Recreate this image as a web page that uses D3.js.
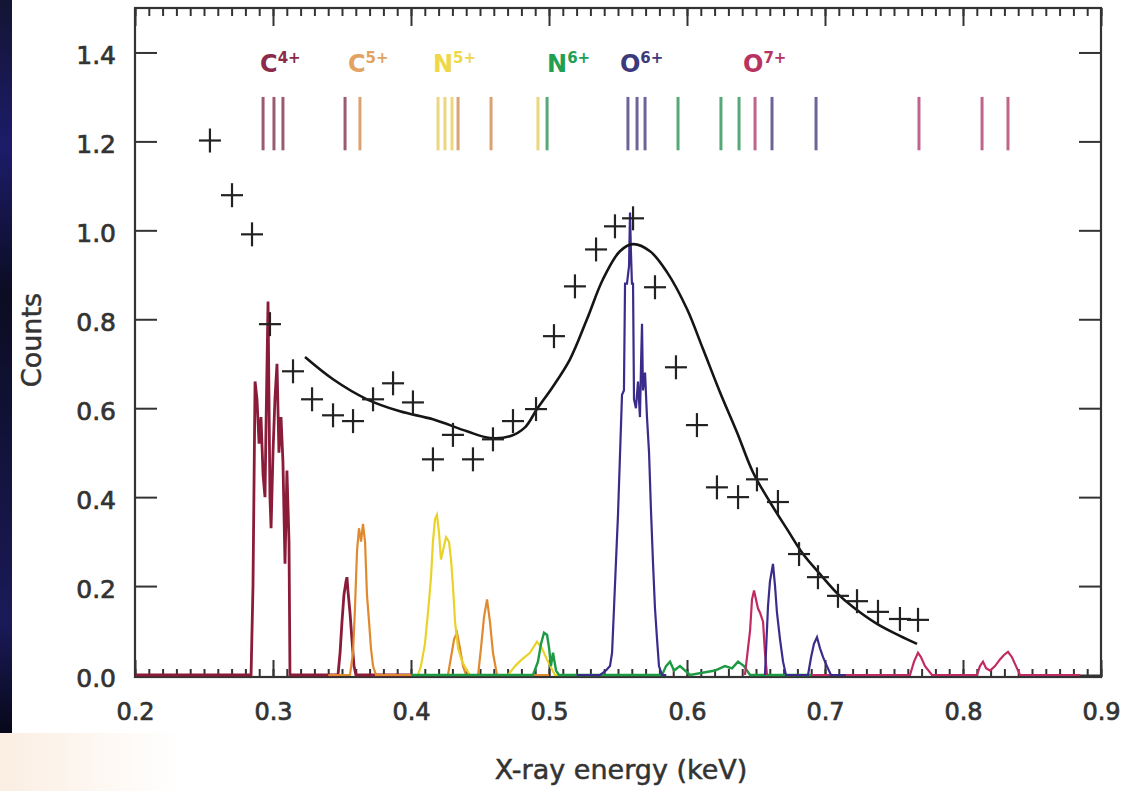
<!DOCTYPE html>
<html><head><meta charset="utf-8">
<script src="https://cdn.jsdelivr.net/npm/d3@7"></script>
<style>body{margin:0;background:#fff;} svg{display:block}</style>
</head><body>
<svg id="chart" width="1128" height="791"></svg>
<script>
// ---------- DATA ----------
const xMajorTicks = [0.2,0.3,0.4,0.5,0.6,0.7,0.8,0.9];
const yTicks = [0.0,0.2,0.4,0.6,0.8,1.0,1.2,1.4];

// measured counts (crosses)
const obsE = [0.2543,0.2703,0.2848,0.2978,0.3145,0.3283,0.3435,0.3580,0.3725,0.3870,0.4014,0.4159,0.4304,0.4449,0.4594,0.4739,0.4906,0.5036,0.5188,0.5341,0.5478,0.5609,0.5768,0.5920,0.6072,0.6217,0.6370,0.6507,0.6659,0.6812,0.6949,0.7094,0.7232,0.7384,0.7543,0.7674];
const obsC = [1.202,1.079,0.991,0.789,0.683,0.620,0.584,0.571,0.620,0.656,0.613,0.485,0.540,0.485,0.530,0.571,0.598,0.762,0.874,0.957,1.009,1.027,0.872,0.692,0.562,0.422,0.400,0.440,0.389,0.272,0.220,0.178,0.166,0.142,0.126,0.124];

// fitted model curve
const fitE = [0.3232,0.3435,0.3681,0.3920,0.4159,0.4406,0.4572,0.4717,0.4826,0.4913,0.5029,0.5152,0.5275,0.5391,0.5514,0.5609,0.5732,0.5855,0.6000,0.6116,0.6239,0.6362,0.6478,0.6601,0.6725,0.6841,0.6964,0.7094,0.7203,0.7377,0.7543,0.7667];
const fitC = [0.715,0.665,0.620,0.593,0.575,0.548,0.533,0.537,0.557,0.598,0.649,0.710,0.800,0.890,0.953,0.969,0.953,0.906,0.823,0.733,0.636,0.546,0.456,0.389,0.328,0.272,0.227,0.182,0.153,0.115,0.088,0.070];

// ion spectra (NaN = gap)
const c4E = [0.2000,0.2841,0.2855,0.2870,0.2884,0.2899,0.2913,0.2928,0.2942,0.2949,0.2964,0.2978,0.2986,0.3000,0.3014,0.3029,0.3043,0.3058,0.3072,0.3087,0.3101,0.3116,0.3123,0.3471,0.3486,0.3500,0.3514,0.3529,0.3536,0.3543,0.3558,0.3572,0.3587,0.3601,0.4000];
const c4C = [0,0,0.20,0.66,0.62,0.52,0.58,0.45,0.40,0.55,0.84,0.40,0.33,0.50,0.62,0.70,0.50,0.58,0.48,0.25,0.46,0.30,0,0,0.05,0.12,0.18,0.21,0.22,0.19,0.14,0.08,0.02,0,0];

const c5E = [0.3400,0.3558,0.3580,0.3594,0.3609,0.3623,0.3638,0.3652,0.3667,0.3681,0.3696,0.3710,0.3725,0.3746,0.4268,0.4290,0.4312,0.4333,0.4355,0.4377,0.4399,0.4486,0.4507,0.4529,0.4551,0.4572,0.4594,0.4623,0.5000];
const c5C = [0,0,0.05,0.15,0.28,0.33,0.30,0.34,0.30,0.18,0.12,0.06,0.02,0,0,0.04,0.08,0.095,0.06,0.02,0,0,0.06,0.13,0.17,0.12,0.05,0,0];

const n5E = [0.4000,0.4051,0.4072,0.4101,0.4123,0.4145,0.4159,0.4174,0.4188,0.4203,0.4217,0.4232,0.4254,0.4275,0.4290,0.4304,0.4319,0.4341,0.4370,0.4406,0.4428,0.4703,0.4754,0.4804,0.4862,0.4913,0.4949,0.4993,0.5043,0.5200];
const n5C = [0,0,0.02,0.07,0.14,0.22,0.30,0.35,0.36,0.32,0.26,0.28,0.31,0.30,0.26,0.20,0.12,0.06,0.03,0.01,0,0,0.02,0.035,0.05,0.075,0.06,0.03,0,0];

const n6E = [0.4000,0.4884,0.4920,0.4942,0.4964,0.4986,0.5001,0.5014,0.5029,0.5051,0.5072,0.5819,0.5848,0.5877,0.5906,0.5949,0.6022,0.6203,0.6275,0.6326,0.6370,0.6413,0.6457,0.6900];
const n6C = [0,0,0.03,0.07,0.095,0.09,0.06,0.02,0.05,0.01,0,0,0.02,0.03,0.01,0.02,0,0.01,0.02,0.015,0.03,0.02,0,0];

const o7E = [0.6420,0.6442,0.6457,0.6471,0.6486,0.6500,0.6514,0.6529,0.6551,0.6565,0.6580,NaN,0.6900,0.7616,0.7645,0.7674,0.7696,0.7725,0.7775,0.8101,0.8123,0.8145,0.8167,0.8196,0.8232,0.8268,0.8297,0.8326,0.8355,0.8384,0.8413,0.8850];
const o7C = [0,0.06,0.10,0.17,0.19,0.17,0.15,0.14,0.12,0.05,0,NaN,0,0,0.03,0.05,0.04,0.02,0,0,0.02,0.03,0.015,0.01,0.02,0.035,0.045,0.052,0.04,0.02,0,0];

const o6E = [0.5200,0.5370,0.5413,0.5442,0.5457,0.5471,0.5486,0.5500,0.5514,0.5529,0.5543,0.5551,0.5565,0.5580,0.5587,0.5594,0.5601,0.5609,0.5616,0.5630,0.5645,0.5659,0.5667,0.5674,0.5681,0.5696,0.5710,0.5725,0.5739,0.5754,0.5768,0.5783,0.5797,0.5819,0.5850,NaN,0.6565,0.6587,0.6601,0.6623,0.6638,0.6652,0.6674,0.6696,0.6717,0.6877,0.6899,0.6920,0.6942,0.6964,0.6986,0.7014,0.7043,0.7150];
const o6C = [0,0,0.01,0.02,0.05,0.15,0.26,0.36,0.49,0.63,0.64,0.88,0.88,0.92,1.04,0.95,0.88,0.88,0.62,0.60,0.66,0.58,0.70,0.79,0.64,0.68,0.58,0.50,0.37,0.25,0.15,0.08,0.02,0,0,NaN,0,0.155,0.21,0.25,0.20,0.14,0.08,0.03,0,0,0.04,0.07,0.085,0.06,0.04,0.02,0,0];

// ion labels and transition line energies
const ionNames   = ["C","C","N","N","O","O"];
const ionCharges = ["4+","5+","5+","6+","6+","7+"];
const ionLabelE  = [0.2906,0.3543,0.4159,0.4986,0.5514,0.6406];
const lineEnergies = [
  [0.2928,0.3007,0.3072,0.3522],
  [0.3630,0.4341,0.4580],
  [0.4196,0.4246,0.4297,0.4920],
  [0.4986,0.5935,0.6246,0.6377],
  [0.5572,0.5638,0.5696,0.6616,0.6935],
  [0.6493,0.7681,0.8138,0.8326]
];

// ---------- STYLE ----------
const specColors  = {c4:"#8a1c3a", c5:"#e08a30", n5:"#e9d22a", n6:"#1e9a45", o6:"#3b2c8c", o7:"#c22a64"};
const labelColors = ["#8c2a4a","#e2a262","#efd748","#22a052","#3c3a7a","#b83262"];
const markColors  = ["#9c5a70","#dba272","#ecd67e","#55a877","#6c6499","#c0648a"];

const W = 1128, H = 791;
const M = {left:135, right:1101, top:8, bottom:677};
const svg = d3.select("#chart");

// background pieces of the photographed slide
const defs = svg.append("defs");
const g1 = defs.append("linearGradient").attr("id","strip").attr("x1",0).attr("x2",0).attr("y1",0).attr("y2",1);
g1.append("stop").attr("offset","0").attr("stop-color","#141433");
g1.append("stop").attr("offset","0.2").attr("stop-color","#1c1c6a");
g1.append("stop").attr("offset","0.4").attr("stop-color","#0c0c22");
g1.append("stop").attr("offset","0.85").attr("stop-color","#1a1a58");
g1.append("stop").attr("offset","1").attr("stop-color","#08081a");
const g2 = defs.append("linearGradient").attr("id","cream").attr("x1",0).attr("x2",1).attr("y1",0).attr("y2",0);
g2.append("stop").attr("offset","0").attr("stop-color","#fbeee2");
g2.append("stop").attr("offset","1").attr("stop-color","#ffffff");
svg.append("rect").attr("x",0).attr("y",0).attr("width",W).attr("height",H).attr("fill","#fff");
svg.append("rect").attr("x",0).attr("y",733).attr("width",180).attr("height",58).attr("fill","url(#cream)");
svg.append("rect").attr("x",0).attr("y",0).attr("width",12).attr("height",733).attr("fill","url(#strip)");

const x = d3.scaleLinear().domain([0.2,0.9]).range([M.left, M.right]);
const y = d3.scaleLinear().domain([0,1.5]).range([675, M.top]);

const FONT = "'DejaVu Sans', sans-serif";
const minorTicks = d3.range(20, 91).map(d => d/100);

// axes
function styleAxis(g){
  g.select(".domain").remove();
  g.selectAll(".tick line").attr("stroke","#333").attr("stroke-width",2);
  g.selectAll(".tick text").attr("fill","#333").attr("font-family",FONT).attr("font-size",24)
   .attr("stroke","#333").attr("stroke-width",0.7);
}
svg.append("g").attr("transform",`translate(0,${M.bottom})`)
  .call(d3.axisBottom(x).tickValues(minorTicks).tickSize(-8).tickFormat("")).call(styleAxis);
svg.append("g").attr("transform",`translate(0,${M.bottom})`)
  .call(d3.axisBottom(x).tickValues(xMajorTicks).tickSize(-17).tickPadding(26).tickFormat(d3.format(".1f"))).call(styleAxis);
svg.append("g").attr("transform",`translate(0,${M.top})`)
  .call(d3.axisTop(x).tickValues(minorTicks).tickSize(-8).tickFormat("")).call(styleAxis);
svg.append("g").attr("transform",`translate(0,${M.top})`)
  .call(d3.axisTop(x).tickValues(xMajorTicks).tickSize(-18).tickFormat("")).call(styleAxis);
const yl = svg.append("g").attr("transform",`translate(${M.left},0)`)
  .call(d3.axisLeft(y).tickValues(yTicks).tickSize(-22).tickPadding(19).tickFormat(d3.format(".1f"))).call(styleAxis);
yl.selectAll(".tick text").attr("dy","0.45em").attr("font-size",25);
svg.append("g").attr("transform",`translate(${M.right},0)`)
  .call(d3.axisRight(y).tickValues(yTicks).tickSize(-22).tickFormat("")).call(styleAxis);

// frame
svg.append("rect").attr("x",M.left).attr("y",M.top).attr("width",M.right-M.left).attr("height",M.bottom-M.top)
  .attr("fill","none").attr("stroke","#333").attr("stroke-width",2.2);

// spectra (drawn over the frame, like the original)
const clip = defs.append("clipPath").attr("id","plotclip");
clip.append("rect").attr("x",M.left+1).attr("y",M.top).attr("width",M.right-M.left-2).attr("height",M.bottom-M.top+1);
const line = d3.line().defined(d => !isNaN(d[0]) && !isNaN(d[1])).x(d => x(d[0])).y(d => y(d[1]));
const series = [
  {e:c4E, c:c4C, col:specColors.c4, w:2.8},
  {e:c5E, c:c5C, col:specColors.c5, w:2.2},
  {e:n5E, c:n5C, col:specColors.n5, w:2.2},
  {e:n6E, c:n6C, col:specColors.n6, w:2.4},
  {e:o7E, c:o7C, col:specColors.o7, w:2.2},
  {e:o6E, c:o6C, col:specColors.o6, w:2.2}
];
const sg = svg.append("g").attr("clip-path","url(#plotclip)");
series.forEach(s => {
  sg.append("path").datum(s.e.map((e,i) => [e, s.c[i]]))
    .attr("d", line).attr("fill","none").attr("stroke", s.col).attr("stroke-width", s.w)
    .attr("stroke-linejoin","miter");
});

// fit curve
svg.append("path").datum(fitE.map((e,i)=>[e,fitC[i]]))
  .attr("d", d3.line().curve(d3.curveCatmullRom).x(d=>x(d[0])).y(d=>y(d[1])))
  .attr("fill","none").attr("stroke","#151515").attr("stroke-width",2.6);

// crosses
const cr = svg.append("g").attr("stroke","#222").attr("stroke-width",2.2);
obsE.forEach((e,i) => {
  const cx = x(e), cy = y(obsC[i]);
  cr.append("line").attr("x1",cx-11).attr("x2",cx+11).attr("y1",cy).attr("y2",cy);
  cr.append("line").attr("x1",cx).attr("x2",cx).attr("y1",cy-12).attr("y2",cy+12);
});

// transition markers
const markTop = 1.30, markBottom = 1.18;
lineEnergies.forEach((arr, k) => {
  arr.forEach(e => {
    svg.append("line").attr("x1",x(e)).attr("x2",x(e)).attr("y1",y(markTop)).attr("y2",y(markBottom))
      .attr("stroke", markColors[k]).attr("stroke-width",3);
  });
});

// ion labels
const labelV = 1.355;
ionNames.forEach((n,k) => {
  const t = svg.append("text").attr("x", x(ionLabelE[k])).attr("y", y(labelV))
    .attr("font-family",FONT).attr("font-weight","bold").attr("font-size",24).attr("fill",labelColors[k]);
  t.append("tspan").text(n);
  t.append("tspan").attr("font-size",15).attr("dy",-9).text(ionCharges[k]);
});

// axis titles
svg.append("text").attr("x",621).attr("y",779).attr("text-anchor","middle")
  .attr("font-family",FONT).attr("font-size",27).attr("fill","#333").attr("stroke","#333").attr("stroke-width",0.5)
  .text("X-ray energy (keV)");
svg.append("text").attr("transform","translate(41,340) rotate(-90)").attr("text-anchor","middle")
  .attr("font-family",FONT).attr("font-size",27).attr("fill","#333").attr("stroke","#333").attr("stroke-width",0.5)
  .text("Counts");
</script>
</body></html>
